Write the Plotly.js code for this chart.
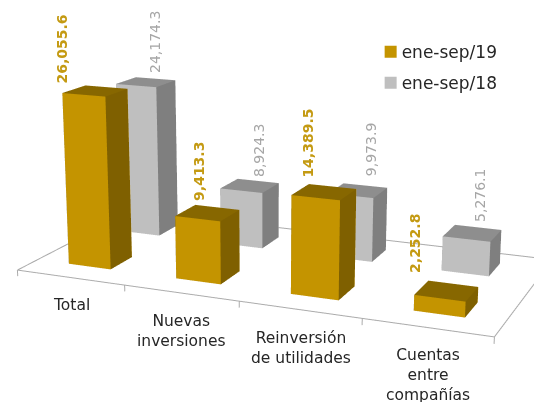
<!DOCTYPE html>
<html><head><meta charset="utf-8">
<script src="https://cdn.plot.ly/plotly-3.0.1.min.js"></script>
<style>html,body{margin:0;padding:0;background:#fff;overflow:hidden;width:534px;height:402px}
#stage{position:absolute;left:-503px;top:-379px;width:1540px;height:1160px}</style>
</head><body><div id="stage"></div>
<script>
const categories = ["Total","Nuevas<br>inversiones","Reinversión<br>de utilidades","Cuentas<br>entre<br>compañías"];
const seriesNames = ["ene-sep/19","ene-sep/18"];
const values19 = [26055.6, 9413.3, 14389.5, 2252.8];
const values18 = [24174.3, 8924.3, 9973.9, 5276.1];
const labelShiftX19 = [-33,-8,-17,-31];
const labelShiftY19 = [-7,-2,0,4];
const labelShiftX18 = [9,9,13,7];
const labelShiftY18 = [-5,-5,0,-3];
const gold = {front:"#C49400", top:"#876700", side:"#7F6000", label:"#C49A12"};
const grey = {front:"#BFBFBF", top:"#8E8E8E", side:"#7F7F7F", label:"#A6A6A6"};
const W = 0.397, D = 0.37;

function bars(vals, row, dx, c, name){
  const x=[],y=[],z=[],i=[],j=[],k=[],fc=[];
  vals.forEach((v,n)=>{
    const b=x.length, x0=n+.5+dx-W/2, x1=n+.5+dx+W/2, y0=row-D/2, y1=row+D/2;
    [[x0,y0,0],[x1,y0,0],[x1,y1,0],[x0,y1,0],[x0,y0,v],[x1,y0,v],[x1,y1,v],[x0,y1,v]].forEach(p=>{x.push(p[0]);y.push(p[1]);z.push(p[2]);});
    const quad=(a,d,e,f,col)=>{i.push(b+a,b+a);j.push(b+d,b+e);k.push(b+e,b+f);fc.push(col,col);};
    quad(0,1,5,4,c.front); quad(1,2,6,5,c.side); quad(4,5,6,7,c.top);
    quad(3,0,4,7,c.side); quad(2,3,7,6,c.front); quad(0,3,2,1,c.side);
  });
  return {type:"mesh3d",name,x,y,z,i,j,k,facecolor:fc,flatshading:true,showscale:false,hoverinfo:"skip",
    lighting:{ambient:1,diffuse:0,specular:0,roughness:1,fresnel:0},lightposition:{x:0,y:0,z:1e5}};
}
const floorLine = {type:"scatter3d",mode:"lines",x:[0,4,4,0,0],y:[0,0,2,2,0],z:[0,0,0,0,0],
  line:{color:"#ABABAB",width:2},showlegend:false,hoverinfo:"skip"};
const tickX=[],tickY=[],tickZ=[];
[0,1,2,3,4].forEach(t=>{tickX.push(t,t,null);tickY.push(0,0,null);tickZ.push(0,-950,null);});
const ticks = {type:"scatter3d",mode:"lines",x:tickX,y:tickY,z:tickZ,line:{color:"#ABABAB",width:2},showlegend:false,hoverinfo:"skip"};
const key = (n,c)=>({type:"scatter3d",mode:"markers",name:n,legendgroup:n,x:[null],y:[null],z:[null],marker:{symbol:"square",size:9,color:c},showlegend:true,hoverinfo:"skip"});

const font="DejaVu Sans";
const anns=[];
values19.forEach((v,n)=>anns.push({x:n+.5,y:.5,z:v,text:v.toLocaleString("en-US",{minimumFractionDigits:1}),textangle:-90,showarrow:false,
  xshift:labelShiftX19[n],yshift:12+labelShiftY19[n],yanchor:"bottom",font:{family:font,size:14,color:gold.label,weight:700}}));
values18.forEach((v,n)=>anns.push({x:n+.42,y:1.534,z:v,text:v.toLocaleString("en-US",{minimumFractionDigits:1}),textangle:-90,showarrow:false,
  xshift:labelShiftX18[n],yshift:12+labelShiftY18[n],yanchor:"bottom",font:{family:font,size:14,color:grey.label}}));
categories.forEach((c,n)=>anns.push({x:n+.5,y:0,z:0,text:c,showarrow:false,xshift:1,yshift:-17,yanchor:"top",font:{family:font,size:15.5,color:"#262626"}}));

const hidden={visible:false,showgrid:false,zeroline:false,showticklabels:false,showspikes:false,showbackground:false};
const layout={width:1540,height:1160,margin:{l:0,r:0,t:0,b:0,pad:0},paper_bgcolor:"#fff",
  showlegend:true,
  legend:{x:.5712,y:.6439,xanchor:"left",yanchor:"top",bgcolor:"rgba(0,0,0,0)",font:{family:font,size:17,color:"#262626"},tracegroupgap:6,itemsizing:"constant",indentation:-15},
  scene:{domain:{x:[0,1],y:[0,1]},
    xaxis:Object.assign({range:[0,4]},hidden),yaxis:Object.assign({range:[0,2]},hidden),zaxis:Object.assign({range:[-1000,30000]},hidden),
    aspectmode:"manual",aspectratio:{x:1.128,y:.564,z:.4855},
    camera:{eye:{x:1.176,y:-2.911,z:.773},center:{x:.048,y:-.241,z:-.007},up:{x:0,y:0,z:1},projection:{type:"perspective"}},
    annotations:anns}};
Plotly.newPlot("stage",[floorLine,ticks,bars(values18,1.534,-.08,grey,seriesNames[1]),bars(values19,.5,0,gold,seriesNames[0]),key(seriesNames[0],gold.front),key(seriesNames[1],grey.front)],layout,{displayModeBar:false})
 .then(gd=>{gd.querySelectorAll(".legend .legendsymbols").forEach(s=>s.setAttribute("transform","translate(9,0)"));});
</script></body></html>
